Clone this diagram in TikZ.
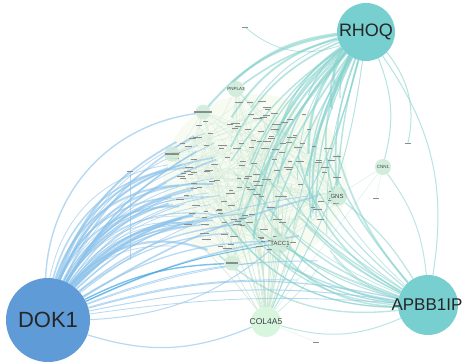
\documentclass[tikz,border=0pt]{standalone}
\usepackage{fontspec}
\setmainfont{Liberation Sans}
\definecolor{dokblue}{HTML}{5E9BD7}
\definecolor{tealnode}{HTML}{78CFD0}
\definecolor{bedge}{HTML}{8CC3EB}
\definecolor{bdark}{HTML}{3FA6E0}
\definecolor{tedge}{HTML}{86D2CD}
\definecolor{gedge}{HTML}{CBE8D3}
\definecolor{gnode}{HTML}{D3EDDD}
\definecolor{cream}{HTML}{F7FBF2}
\tikzset{
  bignode/.style={circle, inner sep=0pt, text=black!85},
  midnode/.style={circle, fill=gnode, inner sep=0pt, text=black!75},
  tinybar/.style={rectangle, fill=black!45, inner sep=0pt, minimum height=0.9pt},
  dokedge/.style={draw=bedge, opacity=0.62},
  rhoedge/.style={draw=tedge, opacity=0.6},
  apbedge/.style={draw=tedge, opacity=0.55},
  coledge/.style={draw=gedge, opacity=0.8},
  inedge/.style={draw=gedge, line width=0.4pt, opacity=0.45},
  midlabel/.style={fill=gnode, inner sep=0.6pt, rounded corners=1pt, text=black!75}
}
\begin{document}
\begin{tikzpicture}[x=1pt,y=1pt]
\useasboundingbox (0,0) rectangle (464,362);
\fill[white] (0,0) rectangle (464,362);
\pgfmathsetseed{11}
% cluster background
\fill[cream] (255,182) ellipse [x radius=92, y radius=86];
% cluster points
\foreach \i in {1,...,160}{
  \pgfmathsetmacro\rr{sqrt(rnd)}
  \pgfmathsetmacro\aa{360*rnd}
  \coordinate (c\i) at ({255+86*\rr*cos(\aa)},{182+80*\rr*sin(\aa)});
}
% other positions
\coordinate (TOPT) at (245,335);
\coordinate (HMM) at (130,191);
\coordinate (HMMb) at (130,102);
\coordinate (RT) at (408,219);
\coordinate (ZB) at (376,164);
\coordinate (BOT) at (316,20);
% cluster internal edges
\foreach \i in {1,...,220}{
  \pgfmathtruncatemacro\pa{random(1,160)}
  \pgfmathtruncatemacro\pb{random(1,160)}
  \draw[inedge] (c\pa) -- (c\pb);
}
% node positions
\path (48,42) node[bignode, minimum size=84pt] (DOK1) {};
\path (366,330) node[bignode, minimum size=58pt] (RHOQ) {};
\path (428,57) node[bignode, minimum size=60pt] (APBB1IP) {};
\path (266,40) node[bignode, minimum size=30pt] (COL4A5) {};
\path (280,119) node[midnode, minimum size=20pt] (TACC1) {};
\path (337,166) node[midnode, minimum size=20pt] (GNS) {};
\path (383,195) node[midnode, minimum size=16pt] (CNN1) {};
\path (236,273) node[midnode, minimum size=16pt] (PNPLA3) {};
\path (172,208) node[midnode, minimum size=15pt] (TBC) {};
\path (232,99) node[midnode, minimum size=15pt] (PNP6) {};
\path (203,250) node[midnode, minimum size=12pt] (ANKn) {};
% hub edges inside cluster
\foreach \h in {TACC1,GNS,PNPLA3,TBC,PNP6,ANKn}{
  \foreach \k in {1,...,12}{
    \pgfmathtruncatemacro\pa{random(1,160)}
    \draw[inedge, line width=0.6pt] (\h) -- (c\pa);
  }
}
\draw[inedge, line width=0.8pt] (CNN1) -- (COL4A5);
\draw[inedge, line width=0.8pt] (CNN1) -- (GNS);
\draw[inedge, line width=0.6pt] (CNN1) -- (ZB);
\draw[inedge, line width=0.6pt] (COL4A5) -- (BOT);
% COL4A5 edges
\foreach \i in {1,...,26}{
  \pgfmathsetmacro\tx{205+120*rnd}
  \pgfmathsetmacro\ty{95+95*rnd}
  \pgfmathsetmacro\bb{-8+16*rnd}
  \coordinate (cl\i) at (\tx,\ty);
  \draw[coledge, line width=0.8pt] (COL4A5) to[bend left=\bb] (cl\i);
}
% DOK1 edges to left of cluster (dense bundle)
\foreach \i in {1,...,46}{
  \pgfmathsetmacro\tx{165+55*rnd}
  \pgfmathsetmacro\ty{110+120*rnd}
  \pgfmathsetmacro\bb{14+22*rnd}
  \pgfmathsetmacro\lw{0.5+1.7*rnd}
  \coordinate (dk\i) at (\tx,\ty);
  \draw[dokedge, line width=\lw pt] (DOK1) to[bend left=\bb] (dk\i);
}
% DOK1 edges to centre / right
\foreach \i in {1,...,10}{
  \pgfmathsetmacro\tx{215+110*rnd}
  \pgfmathsetmacro\ty{80+90*rnd}
  \pgfmathsetmacro\bb{4+16*rnd}
  \pgfmathsetmacro\lw{0.6+1.2*rnd}
  \coordinate (dr\i) at (\tx,\ty);
  \draw[dokedge, line width=\lw pt] (DOK1) to[bend left=\bb] (dr\i);
}
\draw[dokedge, line width=1.4pt] (DOK1) to[bend left=40] (ANKn);
\draw[dokedge, line width=1pt] (DOK1) to[bend left=10] (APBB1IP);
\draw[dokedge, line width=1.2pt] (DOK1) to[bend left=14] (APBB1IP);
\draw[dokedge, line width=0.8pt] (DOK1) to[bend left=6] (APBB1IP);
\draw[dokedge, line width=1pt] (DOK1) to[bend right=18] (TACC1);
\draw[draw=bdark, line width=1.4pt, opacity=0.7] (DOK1) to[bend left=12] (PNP6);
\draw[draw=bdark, line width=1pt, opacity=0.7] (DOK1) to[bend left=8] (TACC1);
\draw[dokedge, line width=1.2pt] (DOK1) to[bend right=20] (COL4A5);
\draw[dokedge, line width=0.8pt] (HMM) -- (HMMb);
\draw[dokedge, line width=0.8pt] (DOK1) to[bend left=15] (HMM);
% RHOQ edges into cluster
\foreach \i in {1,...,30}{
  \pgfmathsetmacro\tx{230+115*rnd}
  \pgfmathsetmacro\ty{115+165*rnd}
  \pgfmathsetmacro\bb{4+18*rnd}
  \pgfmathsetmacro\lw{0.6+1.8*rnd}
  \coordinate (rq\i) at (\tx,\ty);
  \draw[rhoedge, line width=\lw pt] (RHOQ) to[bend right=\bb] (rq\i);
}
\draw[rhoedge, line width=2pt] (RHOQ) to[bend right=20] (ANKn);
\draw[rhoedge, line width=1.6pt] (RHOQ) to[bend right=10] (PNPLA3);
\draw[rhoedge, line width=1.4pt] (RHOQ) to[bend right=6] (GNS);
\draw[rhoedge, line width=1.6pt] (RHOQ) to[bend right=12] (GNS);
\draw[rhoedge, line width=1pt] (RHOQ) to[bend left=25] (RT);
\draw[rhoedge, line width=1pt] (RHOQ) to[bend left=18] (CNN1);
\draw[rhoedge, line width=1pt] (RHOQ) to[bend left=22] (APBB1IP);
\draw[rhoedge, line width=1pt] (RHOQ) to[bend left=12] (COL4A5);
\draw[rhoedge, line width=1pt] (RHOQ) to[bend left=4] (COL4A5);
\draw[rhoedge, line width=1.2pt] (RHOQ) to[bend left=8] (TACC1);
\draw[rhoedge, line width=0.8pt] (TOPT) to[bend right=30] (RHOQ);
% APBB1IP edges
\foreach \i in {1,...,26}{
  \pgfmathsetmacro\tx{215+130*rnd}
  \pgfmathsetmacro\ty{95+115*rnd}
  \pgfmathsetmacro\bb{6+22*rnd}
  \pgfmathsetmacro\lw{0.5+1.3*rnd}
  \coordinate (ap\i) at (\tx,\ty);
  \draw[apbedge, line width=\lw pt] (APBB1IP) to[bend left=\bb] (ap\i);
}
\draw[apbedge, line width=1.2pt] (APBB1IP) to[bend left=10] (TACC1);
\draw[apbedge, line width=1.2pt] (APBB1IP) to[bend right=10] (GNS);
\draw[apbedge, line width=1pt] (APBB1IP) to[bend left=20] (COL4A5);
\draw[apbedge, line width=1pt] (APBB1IP) to[bend right=15] (CNN1);
% tiny labels (illegible)
\foreach \i in {1,...,160}{
  \pgfmathsetmacro\ww{4+5*rnd}
  \node[tinybar, minimum width=\ww pt] (t\i) at (c\i) {};
}
\foreach \p in {TOPT,HMM,RT,ZB,BOT}{
  \node[tinybar, minimum width=6pt] at (\p) {};
}
% medium nodes
\foreach \n in {TACC1,GNS,CNN1,PNPLA3,TBC,PNP6,ANKn}{
  \fill[gnode, opacity=0.85] (\n) circle (7.5pt);
}
\node[midlabel, font=\fontsize{6}{6}\selectfont] at (TACC1) {TACC1};
\node[midlabel, font=\fontsize{6}{6}\selectfont] at (GNS) {GNS};
\node[midlabel, font=\fontsize{4.5}{4.5}\selectfont] at (CNN1) {CNN1};
\node[midlabel, font=\fontsize{4.5}{4.5}\selectfont] at (PNPLA3) {PNPLA3};
\node[tinybar, minimum width=14pt, minimum height=1.3pt] at (TBC) {};
\node[tinybar, minimum width=12pt, minimum height=1.3pt] at (PNP6) {};
\node[tinybar, minimum width=18pt, minimum height=1.3pt] at (ANKn) {};
% big nodes
\fill[dokblue] (DOK1) circle (42pt);
\fill[tealnode] (RHOQ) circle (29pt);
\fill[tealnode] (APBB1IP) circle (30pt);
\fill[gnode!90!green!60!white] (COL4A5) circle (15pt);
\node[font=\fontsize{22}{22}\selectfont, text=black!85] at (DOK1) {DOK1};
\node[font=\fontsize{18}{18}\selectfont, text=black!85] at (RHOQ) {RHOQ};
\node[font=\fontsize{17}{17}\selectfont, text=black!85, inner sep=0pt] at (427,57) {APBB1IP};
\node[font=\fontsize{8.5}{8.5}\selectfont, text=black!75] at (COL4A5) {COL4A5};
\end{tikzpicture}
\end{document}
